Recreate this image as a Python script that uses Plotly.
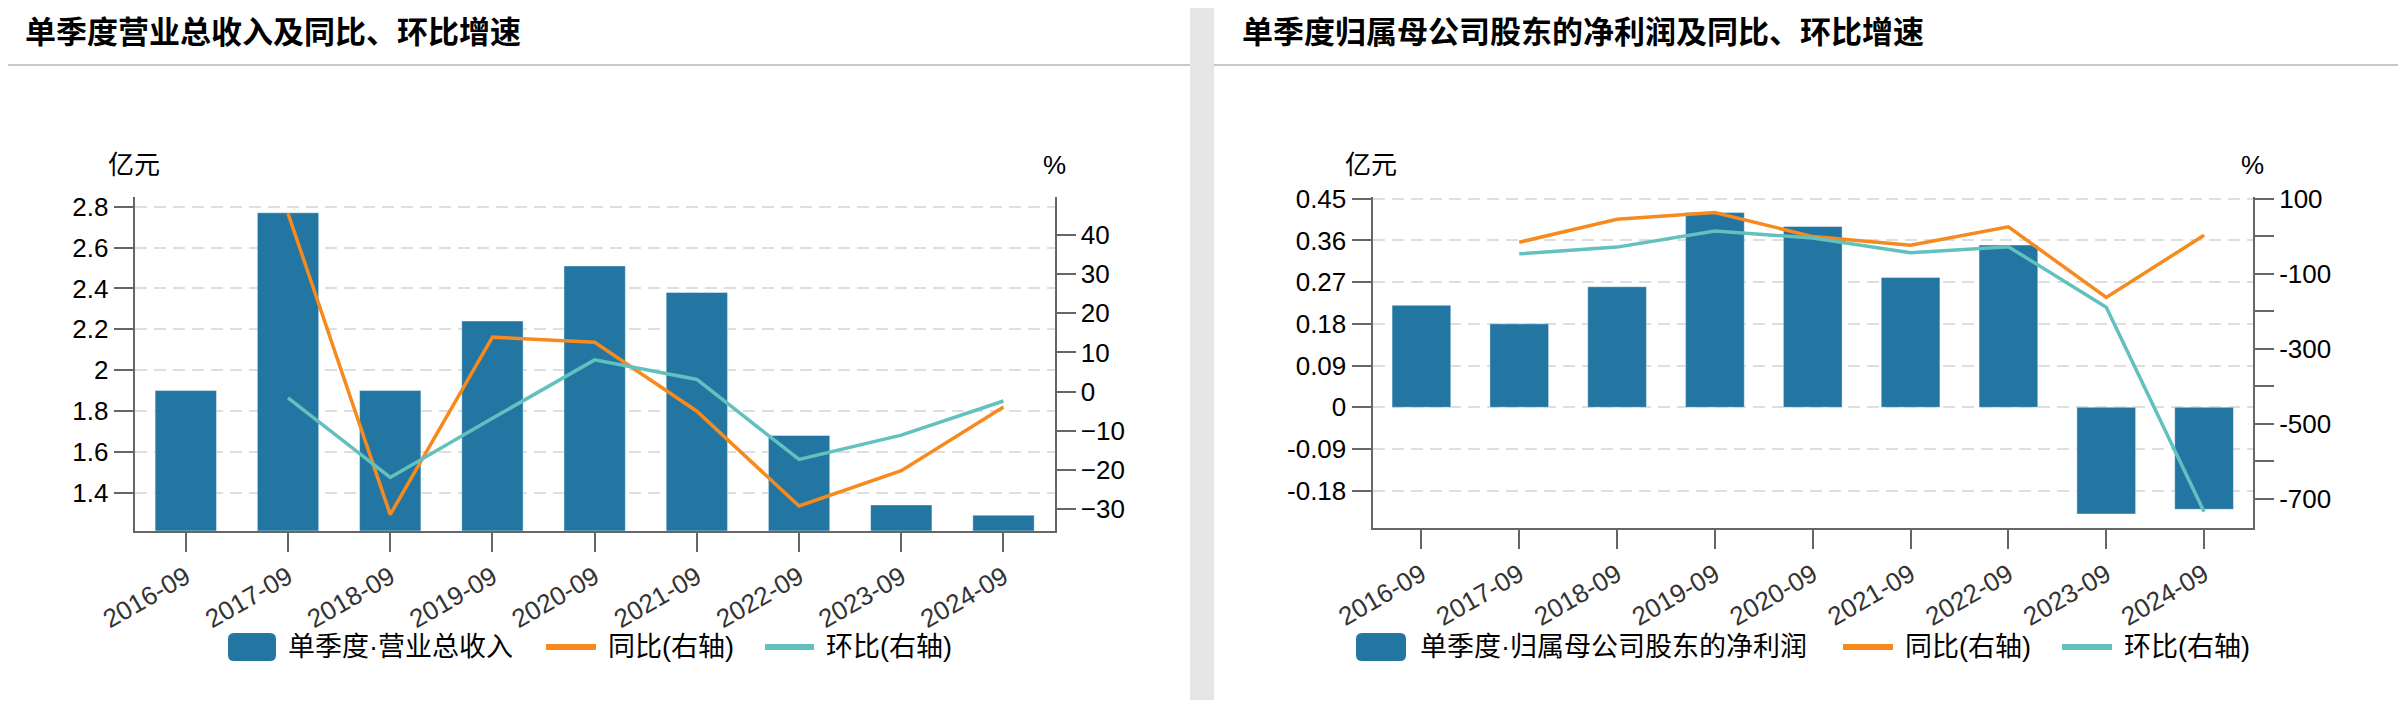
import plotly.graph_objects as go

# The page body has an 8px default margin; the figure is sized to fit inside it.
PAGE_W, PAGE_H = 2406, 708
OFF = 8
W, H = PAGE_W - 2 * OFF, PAGE_H - 2 * OFF

categories = ["2016-09", "2017-09", "2018-09", "2019-09", "2020-09",
              "2021-09", "2022-09", "2023-09", "2024-09"]

# Left chart: revenue (亿元) and growth (%)
revenue = [1.90, 2.77, 1.90, 2.24, 2.51, 2.38, 1.68, 1.34, 1.29]
rev_yoy = [None, 45.5, -31.4, 13.9, 12.6, -5.0, -29.2, -20.2, -3.9]
rev_qoq = [None, -1.6, -21.9, -6.8, 8.1, 3.1, -17.3, -11.1, -2.4]

# Right chart: net profit attributable (亿元) and growth (%)
profit = [0.22, 0.18, 0.26, 0.42, 0.39, 0.28, 0.35, -0.23, -0.22]
prof_yoy = [None, -16, 45, 63, -1, -24, 25, -163, 2.5]
prof_qoq = [None, -47, -29, 14, -5, -44, -28, -189, -734]

left_ticks = [1.4, 1.6, 1.8, 2.0, 2.2, 2.4, 2.6, 2.8]
left_ticktext = ["1.4", "1.6", "1.8", "2", "2.2", "2.4", "2.6", "2.8"]
left_pct_ticks = [-30, -20, -10, 0, 10, 20, 30, 40]
right_ticks = [-0.18, -0.09, 0, 0.09, 0.18, 0.27, 0.36, 0.45]
right_ticktext = ["-0.18", "-0.09", "0", "0.09", "0.18", "0.27", "0.36", "0.45"]
right_pct_ticks = [100, 0, -100, -200, -300, -400, -500, -600, -700]
right_pct_text = ["100", "", "-100", "", "-300", "", "-500", "", "-700"]

titles = ["单季度营业总收入及同比、环比增速", "单季度归属母公司股东的净利润及同比、环比增速"]
bar_names = ["单季度·营业总收入", "单季度·归属母公司股东的净利润"]
line_names = ["同比(右轴)", "环比(右轴)"]

BAR = "#2376a1"
ORANGE = "#f68a1e"
TEAL = "#62c1bf"
FONT = "Liberation Sans, Noto Sans CJK SC, sans-serif"
CJK = "Noto Sans CJK SC, sans-serif"


def px(x):
    return (x - OFF) / W


def py(y):
    return 1 - (y - OFF) / H


fig = go.Figure()

# Left chart traces
fig.add_trace(go.Bar(x=categories, y=revenue, name=bar_names[0], marker_color=BAR,
                     marker_line=dict(color="rgba(255,255,255,0.4)", width=1),
                     width=0.6, xaxis="x", yaxis="y", showlegend=False))
fig.add_trace(go.Scatter(x=categories, y=rev_yoy, name=line_names[0], mode="lines",
                         line=dict(color=ORANGE, width=3.5), xaxis="x", yaxis="y2",
                         showlegend=False))
fig.add_trace(go.Scatter(x=categories, y=rev_qoq, name=line_names[1], mode="lines",
                         line=dict(color=TEAL, width=3.5), xaxis="x", yaxis="y2",
                         showlegend=False))

# Right chart traces
fig.add_trace(go.Bar(x=categories, y=profit, name=bar_names[1], marker_color=BAR,
                     marker_line=dict(color="rgba(255,255,255,0.4)", width=1),
                     width=0.6, xaxis="x2", yaxis="y3", showlegend=False))
fig.add_trace(go.Scatter(x=categories, y=prof_yoy, name=line_names[0], mode="lines",
                         line=dict(color=ORANGE, width=3.5), xaxis="x2", yaxis="y4",
                         showlegend=False))
fig.add_trace(go.Scatter(x=categories, y=prof_qoq, name=line_names[1], mode="lines",
                         line=dict(color=TEAL, width=3.5), xaxis="x2", yaxis="y4",
                         showlegend=False))

axis_common = dict(showline=True, linecolor="#666666", linewidth=2,
                   ticks="outside", ticklen=19, tickwidth=2, tickcolor="#666666",
                   zeroline=False, mirror=False, automargin=False)

xcommon = dict(axis_common, type="category", range=[-0.5, 8.5], tickangle=-30,
               tickfont=dict(family=FONT, size=26, color="#333333"), showgrid=False)

ycommon_left = dict(axis_common, showgrid=True, gridcolor="#dedede", gridwidth=2,
                    griddash="12px,7px",
                    tickfont=dict(family=FONT, size=26, color="#000000"))
ycommon_right = dict(axis_common, showgrid=False,
                     tickfont=dict(family=FONT, size=26, color="#000000"))

fig.update_layout(
    width=W, height=H, autosize=False,
    margin=dict(l=0, r=0, t=0, b=0, pad=0, autoexpand=False),
    paper_bgcolor="white", plot_bgcolor="rgba(0,0,0,0)",
    font=dict(family=FONT, size=26, color="#000000"),
    xaxis=dict(xcommon, domain=[px(134.7), px(1054.6)], anchor="y"),
    yaxis=dict(ycommon_left, domain=[py(530.7), py(197.3)], anchor="x",
               range=[1.214, 2.846], tickvals=left_ticks, ticktext=left_ticktext),
    yaxis2=dict(ycommon_right, overlaying="y", side="right", anchor="x",
                range=[-35.5, 49.6], tickvals=left_pct_ticks),
    xaxis2=dict(xcommon, domain=[px(1372.5), px(2253)], anchor="y3"),
    yaxis3=dict(ycommon_left, domain=[py(528.3), py(197.3)], anchor="x2",
                range=[-0.261, 0.453], tickvals=right_ticks, ticktext=right_ticktext),
    yaxis4=dict(ycommon_right, overlaying="y3", side="right", anchor="x2",
                range=[-778, 103.7], tickvals=right_pct_ticks, ticktext=right_pct_text),
    showlegend=False,
)

shapes = []
annotations = []

# Gray separator between panels and at right edge
shapes.append(dict(type="rect", xref="paper", yref="paper", x0=px(1190), x1=px(1214),
                   y0=-0.05, y1=1.05, fillcolor="#e6e6e6", line=dict(width=0), layer="below"))
# Title underline
for x0, x1 in [(OFF, 1190), (1214, 2398)]:
    shapes.append(dict(type="line", xref="paper", yref="paper", x0=px(x0), x1=px(x1),
                       y0=py(65), y1=py(65), line=dict(color="#c8c8c8", width=2)))

# Titles
for tx, t in [(23, titles[0]), (1240, titles[1])]:
    annotations.append(dict(xref="paper", yref="paper", x=px(tx), y=py(29), text="<b>" + t + "</b>",
                            showarrow=False, xanchor="left", yanchor="middle",
                            font=dict(family=CJK, size=31, color="#000000")))

# Axis units
for ux, u in [(134, "亿元"), (1054, "%"), (1371, "亿元"), (2252, "%")]:
    annotations.append(dict(xref="paper", yref="paper", x=px(ux), y=py(165), text=u,
                            showarrow=False, xanchor="center", yanchor="middle",
                            font=dict(family=FONT, size=26, color="#000000")))

# Custom legends
legend_specs = [
    dict(sw=(228, 276), t0=286, o=(546, 596), ot=606, g=(765, 814), gt=824, name=bar_names[0]),
    dict(sw=(1356, 1406), t0=1418, o=(1843, 1893), ot=1903, g=(2062, 2112), gt=2122, name=bar_names[1]),
]
LY = 647
for s in legend_specs:
    a, b = s['sw']
    shapes.append(dict(type="path", xref="paper", yref="paper",
                       path=(f"M {px(a+6)},{py(LY-14)} L {px(b-6)},{py(LY-14)} "
                             f"Q {px(b)},{py(LY-14)} {px(b)},{py(LY-8)} "
                             f"L {px(b)},{py(LY+8)} "
                             f"Q {px(b)},{py(LY+14)} {px(b-6)},{py(LY+14)} "
                             f"L {px(a+6)},{py(LY+14)} "
                             f"Q {px(a)},{py(LY+14)} {px(a)},{py(LY+8)} "
                             f"L {px(a)},{py(LY-8)} "
                             f"Q {px(a)},{py(LY-14)} {px(a+6)},{py(LY-14)} Z"),
                       fillcolor=BAR, line=dict(width=0)))
    shapes.append(dict(type="line", xref="paper", yref="paper", x0=px(s['o'][0]), x1=px(s['o'][1]),
                       y0=py(LY), y1=py(LY), line=dict(color=ORANGE, width=6)))
    shapes.append(dict(type="line", xref="paper", yref="paper", x0=px(s['g'][0]), x1=px(s['g'][1]),
                       y0=py(LY), y1=py(LY), line=dict(color=TEAL, width=6)))
    for tx, t in [(s['t0'], s['name']), (s['ot'], line_names[0]), (s['gt'], line_names[1])]:
        annotations.append(dict(xref="paper", yref="paper", x=px(tx), y=py(LY), text=t,
                                showarrow=False, xanchor="left", yanchor="middle",
                                font=dict(family=FONT, size=27, color="#000000")))

fig.update_layout(shapes=shapes, annotations=annotations)

fig.write_html("out.html")
